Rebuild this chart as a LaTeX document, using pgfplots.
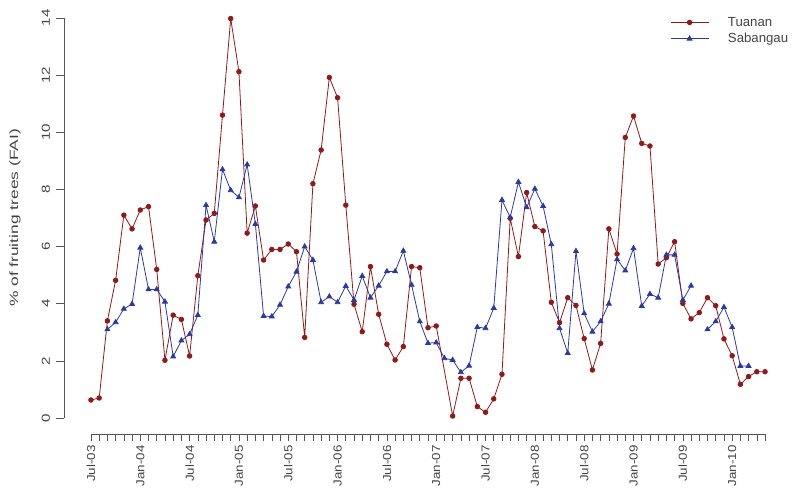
\documentclass[border=0pt]{standalone}
\usepackage{fontspec}
\setmainfont{Liberation Sans}
\usepackage{pgfplots}
\pgfplotsset{compat=1.18}
\definecolor{tred}{HTML}{8E1B1B}
\definecolor{sblue}{HTML}{2C3A9C}
\definecolor{axgray}{HTML}{555555}
\definecolor{txtgray}{HTML}{444444}
\begin{document}
\begin{tikzpicture}
\useasboundingbox (0,0) rectangle (796bp,491bp);
\begin{axis}[
  at={(64bp,57bp)}, anchor=south west,
  scale only axis, width=728bp, height=432bp,
  xmin=-3.28, xmax=85.28, ymin=-0.56, ymax=14.56,
  clip=false,
  axis line style={draw=none},
  tick pos=left, tick align=outside,
  major tick length=7.5bp, minor tick length=7.5bp,
  every tick/.style={axgray, line width=0.6bp},
  xtick={0,6,...,78},
  xticklabels={Jul-03,Jan-04,Jul-04,Jan-05,Jul-05,Jan-06,Jul-06,Jan-07,Jul-07,Jan-08,Jul-08,Jan-09,Jul-09,Jan-10},
  minor xtick={0,...,82},
  ytick={0,2,...,14},
  /pgf/number format/assume math mode=true,
  xticklabel style={rotate=90, anchor=east, xscale=1.15, font=\fontsize{11.6bp}{13bp}\selectfont, text=txtgray},
  yticklabel style={rotate=90, anchor=south, xscale=1.3, font=\fontsize{11.6bp}{13bp}\selectfont, text=txtgray},
  yticklabel shift=3bp,
  ylabel={\% of fruiting trees (FAI)},
  ylabel style={at={(axis description cs:-0.0673,0.5)}, anchor=center, xscale=1.45, font=\fontsize{12bp}{14bp}\selectfont, text=txtgray},
  unbounded coords=jump,
  legend style={draw=none, fill=none, at={(rel axis cs:0.8324,0.970)}, anchor=north west,
    font=\fontsize{13.2bp}{15bp}\selectfont, text=txtgray, inner sep=0pt, row sep=1.5bp,
    /tikz/every odd column/.append style={column sep=17bp}},
  legend cell align=left,
  legend image code/.code={\draw[mark repeat=2,mark phase=2] plot coordinates {(0bp,0bp)(19bp,0bp)(38bp,0bp)};},
]
\addplot[tred, line width=0.8bp, mark=*, mark size=2.3bp, mark options={solid, fill=tred}] coordinates {
(0,0.63)(1,0.70)(2,3.40)(3,4.82)(4,7.10)(5,6.62)(6,7.28)(7,7.40)(8,5.20)(9,2.02)
(10,3.60)(11,3.45)(12,2.17)(13,4.98)(14,6.93)(15,7.16)(16,10.60)(17,13.98)(18,12.12)(19,6.47)
(20,7.42)(21,5.53)(22,5.90)(23,5.90)(24,6.09)(25,5.82)(26,2.82)(27,8.20)(28,9.38)(29,11.92)
(30,11.21)(31,7.45)(32,3.98)(33,3.02)(34,5.30)(35,3.63)(36,2.58)(37,2.03)(38,2.50)(39,5.30)
(40,5.26)(41,3.16)(42,3.22)(44,0.07)(45,1.39)(46,1.39)(47,0.40)(48,0.20)(49,0.67)
(50,1.53)(51,6.99)(52,5.65)(53,7.89)(54,6.70)(55,6.55)(56,4.05)(57,3.34)(58,4.21)(59,3.94)
(60,2.78)(61,1.68)(62,2.61)(63,6.62)(64,5.74)(65,9.82)(66,10.57)(67,9.61)(68,9.52)(69,5.39)
(70,5.61)(71,6.17)(72,4.01)(73,3.47)(74,3.69)(75,4.21)(76,3.93)(77,2.77)(78,2.18)(79,1.18)
(80,1.45)(81,1.62)(82,1.62)
};
\addlegendentry{Tuanan}
\addplot[sblue, line width=0.8bp, mark=triangle*, mark size=2.8bp, mark options={solid, fill=sblue}] coordinates {
(2,3.10)(3,3.35)(4,3.82)(5,3.99)(6,5.96)(7,4.50)(8,4.50)(9,4.07)
(10,2.15)(11,2.71)(12,2.93)(13,3.60)(14,7.45)(15,6.17)(16,8.70)(17,7.97)(18,7.72)(19,8.87)
(20,6.79)(21,3.57)(22,3.55)(23,3.96)(24,4.60)(25,5.12)(26,6.00)(27,5.53)(28,4.05)(29,4.25)
(30,4.05)(31,4.62)(32,4.13)(33,4.97)(34,4.21)(35,4.63)(36,5.13)(37,5.13)(38,5.85)(39,4.66)
(40,3.38)(41,2.62)(42,2.64)(43,2.09)(44,2.03)(45,1.60)(46,1.83)(47,3.18)(48,3.14)(49,3.85)
(50,7.63)(51,7.02)(52,8.26)(53,7.37)(54,8.02)(55,7.42)(56,6.08)(57,3.14)(58,2.27)(59,5.84)
(60,3.66)(61,3.02)(62,3.38)(63,4.00)(64,5.55)(65,5.16)(66,5.94)(67,3.92)(68,4.34)(69,4.21)
(70,5.71)(71,5.71)(72,4.13)(73,4.63)(74,nan)(75,3.10)(76,3.38)(77,3.88)(78,3.18)(79,1.82)
(80,1.82)
};
\addlegendentry{Sabangau}
\draw[axgray, line width=0.6bp] (axis cs:0,-0.56) -- (axis cs:82,-0.56);
\draw[axgray, line width=0.6bp] (axis cs:-3.28,0) -- (axis cs:-3.28,14);
\end{axis}
\end{tikzpicture}
\end{document}
